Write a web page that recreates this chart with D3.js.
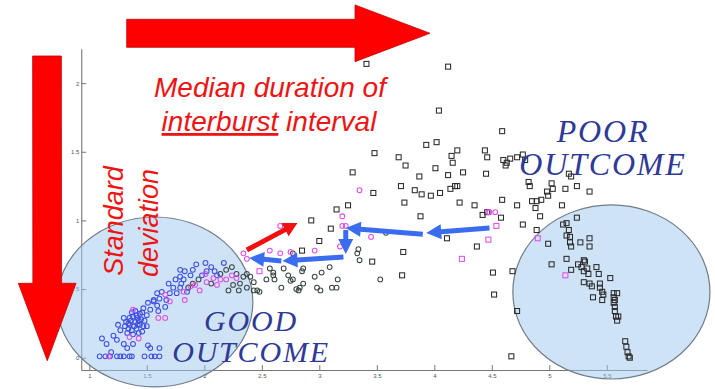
<!DOCTYPE html>
<html>
<head>
<meta charset="utf-8">
<script src="https://cdn.jsdelivr.net/npm/d3@7"></script>
<style>
  html, body { margin: 0; padding: 0; background: #fff; }
  svg { display: block; }
</style>
</head>
<body>
<svg id="chart" width="715" height="389"></svg>
<script>
// Axis ticks
const xTicks = [1, 1.5, 2, 2.5, 3, 3.5, 4, 4.5, 5, 5.5];
const xTickLabels = ["1", "1.5", "2", "2.5", "3", "3.5", "4", "4.5", "5", "5.5"];
const yTicks = [0, 0.5, 1, 1.5, 2];
const yTickLabels = ["0", ".5", "1", "1.5", "2"];

// Each point: [median interburst interval, standard deviation]
const blueCircles = [
  [1.09,0.01],[1.14,0.01],[1.18,0.01],[1.24,0.01],[1.27,0.01],[1.30,0.01],[1.35,0.01],[1.37,0.01],
  [1.48,0.01],[1.54,0.01],[1.57,0.01],[1.61,0.01],
  [1.19,0.04],[1.21,0.16],[1.15,0.10],[1.33,0.07],[1.38,0.10],[1.51,0.09],[1.53,0.07],[1.61,0.07],
  [1.30,0.10],[1.11,0.14],[1.24,0.13],
  [1.27,0.20],[1.31,0.23],[1.34,0.25],[1.35,0.29],[1.38,0.30],[1.40,0.26],[1.43,0.27],[1.44,0.24],
  [1.41,0.21],[1.37,0.20],[1.33,0.18],[1.38,0.17],[1.46,0.19],[1.47,0.23],[1.48,0.27],[1.44,0.32],
  [1.50,0.31],[1.53,0.35],[1.47,0.36],[1.51,0.40],[1.56,0.41],[1.59,0.38],[1.60,0.34],[1.40,0.34],
  [1.35,0.24],[1.30,0.29],[1.25,0.24],[1.43,0.18],[1.50,0.23],
  [1.36,0.27],[1.42,0.29],[1.39,0.23],[1.45,0.28],[1.32,0.26],[1.41,0.31],[1.37,0.33],[1.46,0.33],
  [1.34,0.21],[1.42,0.24],
  [1.59,0.47],[1.63,0.48],[1.67,0.42],[1.70,0.47],[1.73,0.51],[1.76,0.47],[1.79,0.51],[1.80,0.54],
  [1.82,0.57],[1.69,0.54],[1.75,0.57],[1.85,0.48],[1.66,0.37],[1.56,0.42],[1.61,0.43],[1.79,0.64],
  [1.83,0.63],[1.88,0.60],[1.90,0.64],[1.93,0.68],[2.01,0.69],[1.98,0.60],[2.02,0.63],[2.06,0.66],
  [2.17,0.69],[2.11,0.60],[1.79,0.59],[2.09,0.63]
];
const magentaCircles = [
  [1.17,0.01],[1.35,0.15],[1.38,0.35],[1.60,0.29],[1.43,0.14],[1.66,0.46],[1.70,0.41],[1.83,0.42],
  [1.82,0.48],[1.88,0.52],[1.92,0.53],[1.96,0.49],[2.02,0.55],[2.01,0.61],[2.19,0.57],[2.24,0.60],
  [2.28,0.58],[2.11,0.53],[2.14,0.57],[2.08,0.58],[1.66,0.29],[2.34,0.76],[2.37,0.72],[2.57,0.78],
  [2.66,0.76],[2.75,0.77],[2.96,0.78],[3.18,0.81],[2.66,0.96],[3.35,1.22],[3.20,1.03],[3.20,0.96],
  [3.23,0.96],[3.45,0.88],[4.48,1.06],[4.53,1.06],[4.47,1.06]
];
const magentaSquares = [
  [2.48,0.63],[4.24,0.72],[4.47,0.86],[4.54,0.96],[4.90,0.87],[5.14,0.60]
];
const darkCircles = [
  [1.90,0.54],[1.95,0.57],[1.86,0.51],[2.14,0.61],[2.19,0.64],[2.24,0.66],[2.28,0.61],[2.31,0.54],
  [2.37,0.51],[2.43,0.49],[2.48,0.48],[2.34,0.59],[2.37,0.61],[2.40,0.59],[2.06,0.54],[2.25,0.53],
  [2.30,0.49],[2.21,0.49],[2.43,0.55],[2.46,0.49],[2.54,0.57],[2.60,0.60],[2.73,0.60],[2.77,0.57],
  [2.80,0.50],[2.83,0.51],[2.86,0.54],[2.77,0.76],[3.09,0.66],[3.02,0.62],[2.96,0.59],[2.86,0.65],
  [2.85,0.63],[2.75,0.56],[2.67,0.51],[2.98,0.51],[3.16,0.57],[3.15,0.51],[3.11,0.51],[3.01,0.49],
  [2.82,0.49],[2.61,0.57],[2.60,0.62],[2.57,0.65],[2.69,0.65],[3.34,0.79],[3.33,0.76],[3.35,0.71],
  [3.53,0.57],[3.58,0.91]
];
const darkSquares = [
  [3.41,2.14],[4.12,2.12],[4.04,1.80],[4.59,1.65],[3.48,1.49],[3.69,1.46],[3.93,1.55],[4.02,1.57],
  [4.20,1.51],[4.15,1.47],[4.16,1.42],[3.75,1.40],[4.01,1.38],[4.25,1.35],[4.12,1.33],[4.44,1.51],
  [4.46,1.46],[4.45,1.34],[4.60,1.44],[4.62,1.40],[4.66,1.45],[4.72,1.46],[3.29,1.35],[3.87,1.32],
  [3.71,1.25],[3.47,1.20],[3.83,1.22],[3.89,1.19],[3.97,1.18],[4.05,1.20],[4.14,1.23],[4.18,1.25],
  [4.20,1.25],[3.74,1.13],[4.22,1.13],[4.35,1.11],[4.59,1.15],[4.72,1.11],[3.25,1.11],[3.15,1.08],
  [3.88,1.03],[4.42,1.04],[4.46,1.06],[4.58,1.02],[2.93,1.00],[3.10,0.94],[3.00,0.85],[2.85,0.78],
  [3.46,0.70],[3.73,0.77],[4.11,0.87],[4.37,0.81],[4.51,0.62],[3.72,0.60],[4.52,0.46],[4.67,0.01],
  [4.63,1.42],[4.77,1.48],[4.79,1.44],[4.82,1.28],[4.83,1.25],[5.02,1.27],[5.03,1.23],[4.98,1.21],
  [4.99,1.18],[5.14,1.23],[5.24,1.25],[5.35,1.21],[5.19,1.32],[5.17,1.34],[4.93,1.15],[4.89,1.14],
  [4.85,1.14],[4.88,1.09],[4.92,1.03],[4.77,0.97],[4.89,0.93],[5.11,1.11],[5.24,1.02],[5.12,0.97],
  [5.15,0.98],[5.17,0.93],[5.15,0.89],[5.18,0.88],[5.18,0.84],[5.19,0.81],[4.99,0.83],[5.27,0.84],
  [5.35,0.87],[5.35,0.81],[5.15,0.72],[5.02,0.68],[5.30,0.71],[5.31,0.70],[5.25,0.68],[5.28,0.66],
  [5.33,0.65],[5.41,0.66],[5.19,0.64],[5.30,0.63],[5.34,0.61],[5.43,0.61],[5.53,0.58],[5.30,0.55],
  [5.35,0.54],[5.37,0.52],[5.44,0.54],[5.44,0.51],[5.46,0.48],[5.38,0.44],[5.47,0.46],[5.46,0.42],
  [5.56,0.47],[5.59,0.47],[5.56,0.44],[5.57,0.42],[5.56,0.40],[5.57,0.37],[5.57,0.34],[5.58,0.30],
  [5.59,0.27],[5.60,0.30],[5.66,0.12],[5.67,0.08],[5.68,0.04],[5.69,0.01],[5.70,0.00],[4.68,0.63],
  [4.72,0.34]
];

// Outcome groups: centre and radii in data units
const goodGroup = { cx: 1.57, cy: 0.406, rx: 0.852, ry: 0.619 };
const poorGroup = { cx: 5.54, cy: 0.479, rx: 0.857, ry: 0.634 };

// Trend of the recordings from poor to good outcome
const trajectory = [
  [[4.48, 0.945], [3.93, 0.908]],
  [[3.90, 0.900], [3.23, 0.945]],
  [[3.23, 0.930], [3.23, 0.755]],
  [[3.21, 0.733], [2.68, 0.704]],
  [[2.67, 0.704], [2.39, 0.727]]
];
const recoveryArrow = [[2.37, 0.784], [2.81, 0.981]];

const svg = d3.select("#chart");

const x = d3.scaleLinear().domain([0.93, 5.85]).range([81.25, 647.05]);
const y = d3.scaleLinear().domain([-0.09, 2.25]).range([370.06, 48.8]);

// Axes (ticks pointing into the plot)
const xAxis = d3.axisBottom(x).tickValues(xTicks)
  .tickFormat((d, i) => xTickLabels[i]).tickSizeInner(-5).tickSizeOuter(0).tickPadding(4);
const yAxis = d3.axisLeft(y).tickValues(yTicks)
  .tickFormat((d, i) => yTickLabels[i]).tickSizeInner(-5).tickSizeOuter(0).tickPadding(2);

const gx = svg.append("g").attr("transform", `translate(0,${y.range()[0]})`).call(xAxis);
const gy = svg.append("g").attr("transform", `translate(${x.range()[0]},0)`).call(yAxis);
[gx, gy].forEach(g => {
  g.select(".domain").attr("stroke", "#777").attr("stroke-width", 1.1);
  g.selectAll(".tick line").attr("stroke", "#777");
  g.selectAll(".tick text").attr("fill", "#555").attr("font-size", 6)
    .attr("font-family", "Liberation Sans, Arial, sans-serif");
});

// Outcome ellipses
[goodGroup, poorGroup].forEach(g => {
  svg.append("ellipse")
    .attr("cx", x(g.cx)).attr("cy", y(g.cy))
    .attr("rx", x(g.cx + g.rx) - x(g.cx))
    .attr("ry", y(g.cy) - y(g.cy + g.ry))
    .attr("fill", "rgba(160,200,240,0.5)")
    .attr("stroke", "#707c88").attr("stroke-width", 1.2);
});

// Markers
const pts = svg.append("g").attr("fill", "none").attr("stroke-width", 1.05);
function circles(data, color) {
  pts.selectAll(null).data(data).join("circle")
    .attr("cx", d => x(d[0])).attr("cy", d => y(d[1])).attr("r", 2.4)
    .attr("stroke", color);
}
function squares(data, color) {
  pts.selectAll(null).data(data).join("rect")
    .attr("x", d => x(d[0]) - 2.5).attr("y", d => y(d[1]) - 2.5)
    .attr("width", 5).attr("height", 5)
    .attr("stroke", color);
}
squares(darkSquares, "#2b2b2b");
circles(darkCircles, "#3c4646");
circles(blueCircles, "#3f4ee0");
circles(magentaCircles, "#e04ee6");
squares(magentaSquares, "#e04ee6");

// Block arrow outline from (x0,y0) to (x1,y1)
function arrowPoints(x0, y0, x1, y1, sw, hw, hl) {
  const dx = x1 - x0, dy = y1 - y0, L = Math.hypot(dx, dy);
  const ux = dx / L, uy = dy / L, nx = -uy, ny = ux;
  const bx = x1 - ux * hl, by = y1 - uy * hl;
  return [
    [x0 + nx * sw / 2, y0 + ny * sw / 2], [bx + nx * sw / 2, by + ny * sw / 2],
    [bx + nx * hw / 2, by + ny * hw / 2], [x1, y1],
    [bx - nx * hw / 2, by - ny * hw / 2], [bx - nx * sw / 2, by - ny * sw / 2],
    [x0 - nx * sw / 2, y0 - ny * sw / 2]
  ];
}
function drawArrow(p, fill, stroke) {
  svg.append("polygon").attr("points", p.map(q => q.join(",")).join(" "))
    .attr("fill", fill).attr("stroke", stroke || "none").attr("stroke-width", 0.8);
}

trajectory.forEach(([a, b]) =>
  drawArrow(arrowPoints(x(a[0]), y(a[1]), x(b[0]), y(b[1]), 5, 15, 15), "#3a6cf0"));
drawArrow(arrowPoints(x(recoveryArrow[0][0]), y(recoveryArrow[0][1]),
  x(recoveryArrow[1][0]), y(recoveryArrow[1][1]), 5, 15, 14), "#f01010");

// Red labels for the two measures
const red = "#ee1414";
const title = svg.append("text").attr("text-anchor", "middle")
  .attr("font-family", "Liberation Sans, Arial, sans-serif").attr("font-style", "italic")
  .attr("font-size", 28).attr("fill", red);
title.append("tspan").attr("x", 270).attr("y", 97).text("Median duration of");
const line2 = title.append("tspan").attr("x", 269).attr("y", 131);
line2.append("tspan").attr("text-decoration", "underline").text("interburst");
line2.append("tspan").text(" interval");

[["Standard", 123, 221], ["deviation", 158, 223]].forEach(([t, tx, ty]) => {
  svg.append("text").attr("text-anchor", "middle")
    .attr("transform", `translate(${tx},${ty}) rotate(-90)`)
    .attr("font-family", "Liberation Sans, Arial, sans-serif").attr("font-style", "italic")
    .attr("font-size", 27).attr("fill", red).text(t);
});

// Outcome labels, two lines each
const navy = "#2f3a96";
[[["GOOD", "OUTCOME"], 251, [331, 362], 30],
 [["POOR", "OUTCOME"], 603, [142, 175], 32]].forEach(([lines, tx, ys, fs]) => {
  const t = svg.append("text").attr("text-anchor", "middle")
    .attr("font-family", "Liberation Serif, Times New Roman, serif").attr("font-style", "italic")
    .attr("font-size", fs).attr("letter-spacing", 1.8).attr("fill", navy);
  lines.forEach((s, i) => t.append("tspan").attr("x", tx).attr("y", ys[i]).text(s));
});

// Direction arrows for the two axes
drawArrow(arrowPoints(126.7, 33.3, 430, 33.3, 28, 56.7, 75), "#ff0000", "#c40000");
drawArrow(arrowPoints(47, 56, 47.3, 360.7, 28.7, 57.7, 77.4), "#ff0000", "#c40000");
</script>
</body>
</html>
